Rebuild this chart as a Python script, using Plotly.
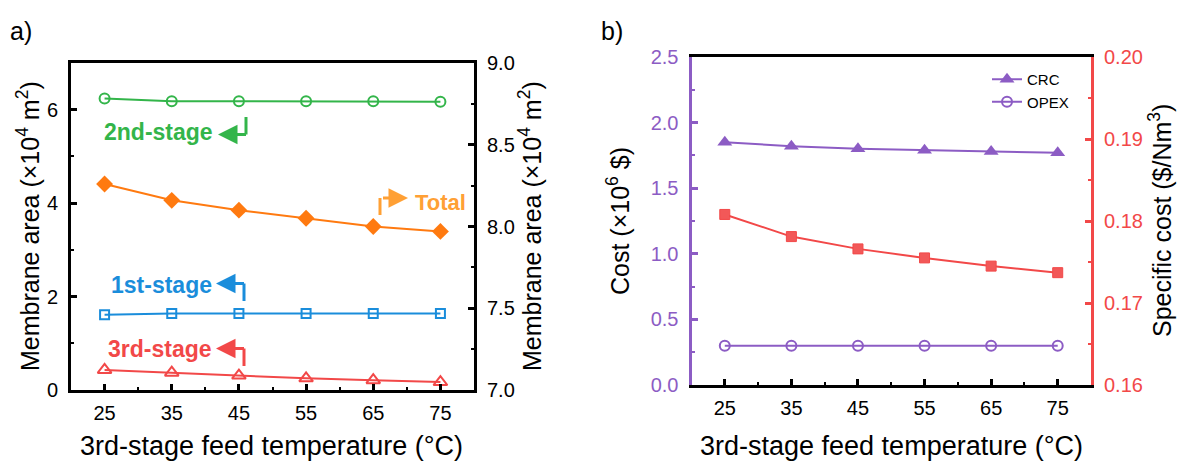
import plotly.graph_objects as go

W, H = 1182, 463

# ---------------- data ----------------
temps = [25, 35, 45, 55, 65, 75]
# panel a (membrane area, x10^4 m2)
stage1 = [1.61, 1.64, 1.64, 1.64, 1.64, 1.64]
stage2 = [6.24, 6.18, 6.18, 6.18, 6.18, 6.17]
stage3 = [0.43, 0.37, 0.31, 0.25, 0.21, 0.17]
total = [8.26, 8.16, 8.10, 8.05, 8.00, 7.97]
# panel b
crc = [1.85, 1.82, 1.80, 1.79, 1.78, 1.77]
opex = [0.30, 0.30, 0.30, 0.30, 0.30, 0.30]
specific_cost = [0.1808, 0.1781, 0.1766, 0.1755, 0.1745, 0.1737]

x_ticks = [25, 35, 45, 55, 65, 75]

FONT = "Arial, Liberation Sans, sans-serif"
GREEN = "#33b54a"
ORANGE = "#ff7a10"
ORANGE_TXT = "#ffa035"
BLUE = "#1a8ddb"
RED = "#f24848"
PURPLE = "#8c5cc4"

def px(x):
    return x / W

def py(y):
    return 1 - y / H

# plot rectangles (pixels)
A = dict(l=71, r=474, t=63, b=390)
B = dict(l=691.5, r=1091, t=57, b=385)

fig = go.Figure()

# panel a
fig.add_trace(go.Scatter(x=temps, y=stage2, xaxis="x", yaxis="y", mode="lines+markers",
                         line=dict(color=GREEN, width=2),
                         marker=dict(symbol="circle-open", size=10, color=GREEN, line=dict(width=2)),
                         name="2nd-stage", showlegend=False))
fig.add_trace(go.Scatter(x=temps, y=stage1, xaxis="x", yaxis="y", mode="lines+markers",
                         line=dict(color=BLUE, width=2),
                         marker=dict(symbol="square-open", size=9, color=BLUE, line=dict(width=2)),
                         name="1st-stage", showlegend=False))
fig.add_trace(go.Scatter(x=temps, y=stage3, xaxis="x", yaxis="y", mode="lines+markers",
                         line=dict(color=RED, width=2),
                         marker=dict(symbol="triangle-up-open", size=12, color=RED, line=dict(width=2)),
                         name="3rd-stage", showlegend=False))
fig.add_trace(go.Scatter(x=temps, y=total, xaxis="x", yaxis="y2", mode="lines+markers",
                         line=dict(color=ORANGE, width=2),
                         marker=dict(symbol="diamond", size=13, color=ORANGE),
                         name="Total", showlegend=False))

# panel b
fig.add_trace(go.Scatter(x=temps, y=crc, xaxis="x2", yaxis="y3", mode="lines+markers",
                         line=dict(color=PURPLE, width=2),
                         marker=dict(symbol="triangle-up", size=13, color=PURPLE),
                         name="CRC", showlegend=True))
fig.add_trace(go.Scatter(x=temps, y=opex, xaxis="x2", yaxis="y3", mode="lines+markers",
                         line=dict(color=PURPLE, width=2),
                         marker=dict(symbol="circle-open", size=10, color=PURPLE, line=dict(width=2)),
                         name="OPEX", showlegend=True))
fig.add_trace(go.Scatter(x=temps, y=specific_cost, xaxis="x2", yaxis="y4", mode="lines+markers",
                         line=dict(color=RED, width=2),
                         marker=dict(symbol="square", size=10, color="#f25858", line=dict(color=RED, width=1)),
                         name="Specific cost", showlegend=False))

tickfont = dict(family=FONT, size=20, color="black")

def xaxis_cfg(dom, anchor):
    return dict(domain=dom, anchor=anchor, range=[20, 80], tickmode="array", tickvals=x_ticks,
                ticks="inside", ticklen=6, tickwidth=3, tickcolor="black",
                minor=dict(ticks="inside", ticklen=3, tickwidth=2, tickcolor="black",
                           tickvals=[30, 40, 50, 60, 70]),
                showline=True, linecolor="black", linewidth=3, mirror=True, automargin=False,
                showgrid=False, zeroline=False, tickfont=tickfont, ticklabelstandoff=3)

def yaxis_cfg(dom, anchor, rng, dtick, mdtick, color, side="left", overlaying=None, fmt=None, line=True):
    d = dict(domain=dom, anchor=anchor, range=rng, tick0=rng[0], dtick=dtick, side=side,
             ticks="inside", ticklen=6, tickwidth=3, tickcolor=color,
             minor=dict(ticks="inside", ticklen=3, tickwidth=2, tickcolor=color, dtick=mdtick, tick0=rng[0]),
             showline=line, linecolor=color, linewidth=3, automargin=False,
             showgrid=False, zeroline=False, tickfont=dict(family=FONT, size=20, color=color),
             ticklabelstandoff=6)
    if overlaying:
        d["overlaying"] = overlaying
    if fmt:
        d["tickformat"] = fmt
    return d

ya = [py(A["b"]), py(A["t"])]
yb = [py(B["b"]), py(B["t"])]

fig.update_layout(
    template="none",
    width=W, height=H,
    margin=dict(l=0, r=0, t=0, b=0, pad=0, autoexpand=False),
    paper_bgcolor="white", plot_bgcolor="white",
    font=dict(family=FONT, color="black"),
    xaxis=xaxis_cfg([px(A["l"]), px(A["r"])], "y"),
    yaxis=yaxis_cfg(ya, "x", [0, 7], 2, 1, "black", fmt="d"),
    yaxis2=yaxis_cfg(ya, "x", [7.0, 9.0], 0.5, 0.25, "black", side="right", overlaying="y", fmt=".1f"),
    xaxis2=xaxis_cfg([px(B["l"]), px(B["r"])], "y3"),
    yaxis3=yaxis_cfg(yb, "x2", [0, 2.5], 0.5, 0.25, PURPLE, fmt=".1f"),
    yaxis4=yaxis_cfg(yb, "x2", [0.16, 0.20], 0.01, 0.005, RED, side="right", overlaying="y3", fmt=".2f"),
    legend=dict(x=px(987), y=py(63), xanchor="left", yanchor="top",
                bgcolor="rgba(0,0,0,0)", font=dict(family=FONT, size=15, color="black"),
                itemwidth=30, tracegroupgap=0, borderwidth=0),
    showlegend=True,
)

ann = []
def text(x, y, s, size, color="black", angle=0, bold=False, xanchor="center"):
    ann.append(dict(x=px(x), y=py(y), xref="paper", yref="paper", text=(f"<b>{s}</b>" if bold else s),
                    showarrow=False, textangle=angle, xanchor=xanchor, yanchor="middle",
                    font=dict(family=FONT, size=size, color=color)))

# panel labels
text(21, 31, "a)", 25)
text(612, 31, "b)", 25)
# axis titles
text(28, 226, "Membrane area (×10<sup>4</sup> m<sup>2</sup>)", 25, angle=-90)
text(530, 226, "Membrane area (×10<sup>4</sup> m<sup>2</sup>)", 25, angle=-90)
text(271, 446, "3rd-stage feed temperature (°C)", 27)
text(618, 221, "Cost (×10<sup>6</sup> $)", 25, angle=-90)
text(1160, 221, "Specific cost ($/Nm<sup>3</sup>)", 25, angle=-90)
text(891, 446, "3rd-stage feed temperature (°C)", 27)
# series labels
text(158, 132, "2nd-stage", 23, GREEN, bold=True)
text(161, 285, "1st-stage", 23, BLUE, bold=True)
text(160, 349, "3rd-stage", 23, RED, bold=True)
text(440, 202, "Total", 22, ORANGE_TXT, bold=True)

# bent arrows: vertical stem (shape) + arrow (annotation)
shapes = []
def bent(xv, y0, y1, xtip, color):
    shapes.append(dict(type="line", xref="paper", yref="paper", x0=px(xv), y0=py(y0), x1=px(xv), y1=py(y1),
                       line=dict(color=color, width=3)))
    ann.append(dict(x=px(xtip), y=py(y1), xref="paper", yref="paper",
                    ax=(xv + 1.5) - xtip, ay=0, axref="pixel", ayref="pixel",
                    showarrow=True, arrowhead=2, arrowsize=1.3,
                    arrowwidth=3, arrowcolor=color, text=""))

bent(246, 117, 134.5, 218, GREEN)
bent(244, 301, 283.5, 216, BLUE)
bent(244, 366, 348.5, 216, RED)
bent(380, 215, 198, 408, ORANGE_TXT)

fig.update_layout(annotations=ann, shapes=shapes)

fig.write_html("out.html", config={"displayModeBar": False},
               post_script="document.body.style.margin='0';")
